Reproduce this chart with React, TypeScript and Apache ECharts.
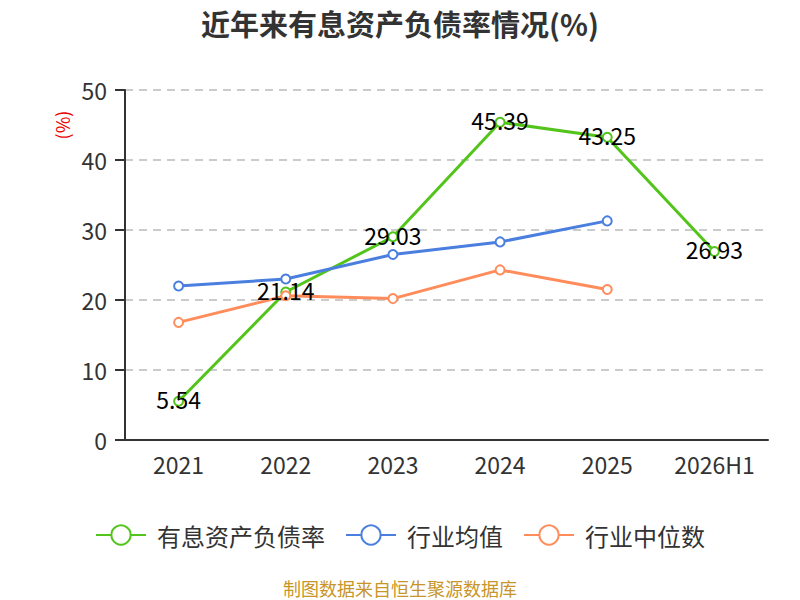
import { useEffect, useRef } from "react";
import * as echarts from "echarts";

const years = ["2021", "2022", "2023", "2024", "2025", "2026H1"];
const debtRatio = [5.54, 21.14, 29.03, 45.39, 43.25, 26.93];
const industryMean = [22.0, 23.0, 26.5, 28.3, 31.3, null];
const industryMedian = [16.8, 20.6, 20.2, 24.3, 21.5, null];

const FONT = "'Noto Sans CJK SC', 'Noto Sans', sans-serif";

const App: React.FC = () => {
	const chartRef = useRef<HTMLDivElement>(null);

	useEffect(() => {
		if (!chartRef.current) return;
		const chart = echarts.init(chartRef.current, undefined, { renderer: "svg" });

		const lineSeries = (name: string, data: (number | null)[], color: string, withLabel: boolean) => ({
			name,
			type: "line",
			data,
			symbol: "emptyCircle",
			symbolSize: 9,
			showAllSymbol: true,
			lineStyle: { color, width: 3 },
			itemStyle: { color, borderWidth: 2 },
			label: withLabel
				? { show: true, position: "inside", offset: [0, -2], color: "#000", fontSize: 23, fontFamily: FONT }
				: { show: false },
		});

		chart.setOption({
			animation: false,
			backgroundColor: "#fff",
			title: {
				text: "近年来有息资产负债率情况(%)",
				left: "center",
				top: 3,
				textStyle: { fontSize: 29, fontWeight: "bold", color: "#333", fontFamily: FONT },
			},
			legend: {
				bottom: 48,
				left: "center",
				itemWidth: 50,
				itemHeight: 24,
				itemGap: 20,
				textStyle: { fontSize: 24, color: "#333", fontFamily: FONT, padding: [0, 0, 0, 6] },
				data: ["有息资产负债率", "行业均值", "行业中位数"],
			},
			graphic: [
				{
					type: "text",
					x: 400,
					y: 588,
					style: {
						text: "制图数据来自恒生聚源数据库",
						fill: "#c8952a",
						fontSize: 18,
						fontFamily: FONT,
						align: "center",
						verticalAlign: "middle",
					},
				},
				{
					type: "text",
					x: 62,
					y: 125,
					rotation: Math.PI / 2,
					style: {
						text: "(%)",
						fill: "#e00",
						fontSize: 18,
						fontFamily: FONT,
						align: "center",
						verticalAlign: "middle",
					},
				},
			],
			grid: { left: 125, right: 32, top: 90, bottom: 160 },
			xAxis: {
				type: "category",
				data: years,
				axisLine: { lineStyle: { color: "#333", width: 2 } },
				axisTick: { length: 9, lineStyle: { color: "#333", width: 2 } },
				axisLabel: { fontSize: 23, color: "#333", margin: 12, fontFamily: FONT },
			},
			yAxis: {
				type: "value",
				min: 0,
				max: 50,
				interval: 10,
				axisLine: { show: true, lineStyle: { color: "#333", width: 2 } },
				axisTick: { show: true, length: 10, lineStyle: { color: "#333", width: 2 } },
				axisLabel: { fontSize: 23, color: "#333", margin: 18, fontFamily: FONT },
				splitLine: { lineStyle: { color: "#bbb", type: [8, 6], width: 1.5 } },
			},
			series: [
				lineSeries("有息资产负债率", debtRatio, "#52c41a", true),
				lineSeries("行业均值", industryMean, "#4a7fe0", false),
				lineSeries("行业中位数", industryMedian, "#ff8c5a", false),
			],
		});

		return () => {
			chart.dispose();
		};
	}, []);

	return <div ref={chartRef} style={{ position: "absolute", left: 0, top: 0, width: 800, height: 600 }} />;
};

export default App;
